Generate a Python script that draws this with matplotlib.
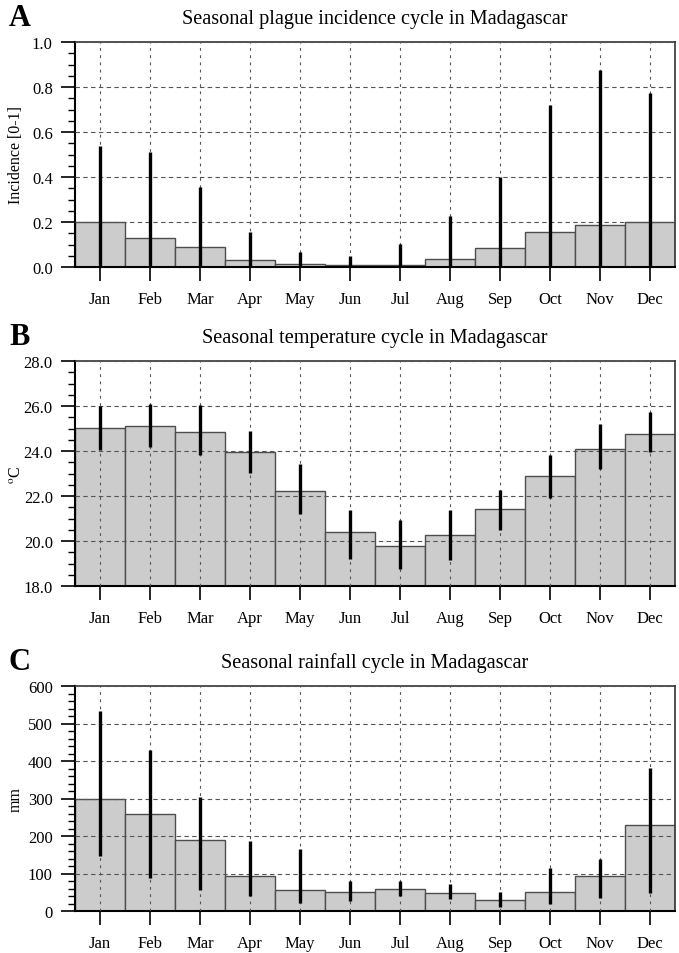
import numpy as np
import matplotlib
matplotlib.use("Agg")
import matplotlib.pyplot as plt
from matplotlib.ticker import MultipleLocator, FormatStrFormatter

plt.rcParams['font.family'] = ['Liberation Serif', 'DejaVu Serif']
plt.rcParams['mathtext.fontset'] = 'stix'

months = ['Jan', 'Feb', 'Mar', 'Apr', 'May', 'Jun',
          'Jul', 'Aug', 'Sep', 'Oct', 'Nov', 'Dec']

# Panel A: plague incidence
plague_mean = [0.200, 0.127, 0.087, 0.031, 0.015, 0.009,
               0.010, 0.034, 0.083, 0.157, 0.188, 0.200]
plague_low = [0, 0, 0, 0, 0, 0, 0, 0, 0, 0, 0, 0]
plague_high = [0.538, 0.511, 0.357, 0.157, 0.068, 0.049,
               0.104, 0.225, 0.400, 0.719, 0.874, 0.775]

# Panel B: temperature (deg C)
temp_mean = [25.04, 25.11, 24.86, 23.94, 22.24, 20.41,
             19.79, 20.28, 21.44, 22.90, 24.09, 24.76]
temp_low = [24.04, 24.18, 23.82, 23.04, 21.21, 19.21,
            18.74, 19.16, 20.47, 21.90, 23.19, 23.96]
temp_high = [26.00, 26.07, 26.03, 24.87, 23.44, 21.36,
             20.93, 21.36, 22.25, 23.82, 25.20, 25.72]

# Panel C: rainfall (mm)
rain_mean = [299, 258, 189, 93, 56, 52, 58, 49, 29, 50, 94, 229]
rain_low = [148, 88, 56, 40, 21, 28, 40, 33, 10, 20, 35, 48]
rain_high = [534, 429, 305, 188, 166, 81, 80, 73, 50, 115, 138, 381]

panels = [
    dict(letter='A', title='Seasonal plague incidence cycle in Madagascar',
         mean=plague_mean, low=plague_low, high=plague_high,
         ylim=(0, 1.0), major=0.2, minor=0.05, fmt='%.1f',
         ylabel='Incidence [0-1]', bottom=1 - 268 / 954),
    dict(letter='B', title='Seasonal temperature cycle in Madagascar',
         mean=temp_mean, low=temp_low, high=temp_high,
         ylim=(18, 28), major=2, minor=0.5, fmt='%.1f',
         ylabel='$^{\\mathrm{o}}$C', bottom=1 - 587 / 954),
    dict(letter='C', title='Seasonal rainfall cycle in Madagascar',
         mean=rain_mean, low=rain_low, high=rain_high,
         ylim=(0, 600), major=100, minor=20, fmt='%d',
         ylabel='mm', bottom=1 - 912 / 954),
]

fig = plt.figure(figsize=(6.79, 9.54), dpi=100)
x = np.arange(len(months)) + 0.5

for p in panels:
    ax = fig.add_axes([75 / 679, p['bottom'], 600 / 679, 225 / 954])
    base = p['ylim'][0]
    heights = np.array(p['mean']) - base
    ax.bar(x, heights, width=1.0, bottom=base, color='#cccccc',
           edgecolor='#4d4d4d', linewidth=1.0, zorder=1)
    ax.vlines(x, p['low'], p['high'], color='black', linewidth=2.4, zorder=3)

    ax.set_xlim(0, 12)
    ax.set_ylim(*p['ylim'])
    ax.set_xticks(x)
    ax.set_xticklabels(months)
    ax.yaxis.set_major_locator(MultipleLocator(p['major']))
    ax.yaxis.set_minor_locator(MultipleLocator(p['minor']))
    ax.yaxis.set_major_formatter(FormatStrFormatter(p['fmt']))
    ax.tick_params(axis='x', direction='out', length=10, width=1.2, pad=7,
                   labelsize=12)
    ax.tick_params(axis='y', which='major', direction='out', length=10,
                   width=1.2, pad=6, labelsize=12)
    ax.tick_params(axis='y', which='minor', direction='out', length=5,
                   width=1.0)

    ax.set_axisbelow(False)
    ax.grid(True, axis='y', which='major', color='#555555',
            linestyle=(0, (4, 3)), linewidth=0.8)
    ax.grid(True, axis='x', which='major', color='#555555',
            linestyle=(0, (2.5, 4)), linewidth=0.8)

    for side in ['left', 'bottom']:
        ax.spines[side].set_linewidth(1.5)
        ax.spines[side].set_color('black')
    for side in ['top', 'right']:
        ax.spines[side].set_linewidth(1.2)
        ax.spines[side].set_color('#333333')

    ax.set_title(p['title'], fontsize=14.6, pad=14)
    ax.set_ylabel(p['ylabel'], fontsize=11.5)
    ax.yaxis.set_label_coords(-0.085, 0.5)

    top_px = (1 - p['bottom']) * 954 - 225
    fig.text(9 / 679, 1 - (top_px - 17) / 954, p['letter'],
             fontsize=22, fontweight='bold', va='baseline', ha='left')

fig.savefig('out.png', dpi=100)
